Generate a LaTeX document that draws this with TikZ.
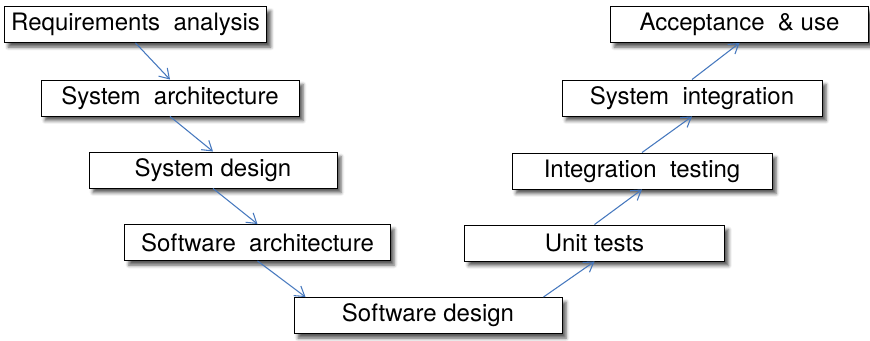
\documentclass[tikz,border=0pt]{standalone}
\usepackage{fontspec}
\setmainfont{TeX Gyre Heros}
\usepackage{tikz}
\newcommand{\boxwidth}{195pt}
\newcommand{\boxheight}{27pt}
\usetikzlibrary{arrows.meta,calc,positioning,shadows.blur}
\definecolor{arrowblue}{RGB}{70,120,190}
\tikzset{
  x=0.75pt,y=-0.75pt,
  font=\fontsize{18}{21}\selectfont,
  stage/.style={draw,fill=white,line width=0.7pt,shape=rectangle,minimum width=\boxwidth,minimum height=\boxheight,inner sep=1mm,
    blur shadow={shadow xshift=3pt,shadow yshift=-3.5pt,shadow blur radius=2.5pt,shadow opacity=65}},
  flow/.style={draw=arrowblue,line width=0.8pt,-{Straight Barb[length=7pt,width=9pt]}}
}
\begin{document}
\begin{tikzpicture}
    \useasboundingbox (0,0) rectangle (870,341);

    % left branch of the V
    \node (req) [stage,minimum width=197pt] at (135.5,24.5) {Requirements\ \ analysis};
    \node (sysarch) [stage,minimum width=193.5pt] at (170,98) {System\ \ architecture};
    \node (sysdes) [stage,minimum width=186pt] at (213,170) {System design};
    \node (swarch) [stage,minimum width=199pt] at (257.5,242.5) {Software\ \ architecture};
    \node (swdes) [stage,minimum width=201pt] at (428,315.5) {Software design};

    % right branch of the V
    \node (unit) [stage] at (594.5,243) {Unit tests};
    \node (inttest) [stage] at (642,171) {Integration\ \ testing};
    \node (sysint) [stage] at (692,98) {System\ \ integration};
    \node (accept) [stage,minimum width=194pt] at (739.5,24.5) {Acceptance\ \ \& use};

    \path [flow] (req.south) -- (sysarch.north);
    \path [flow] (sysarch.south) -- (sysdes.north);
    \path [flow] (sysdes.south) -- (swarch.north);
    \path [flow] (swarch.south) -- ($(swdes.north west)+(12,0)$);
    \path [flow] ($(swdes.north east)+(-19,0)$) -- (unit.south);
    \path [flow] (unit.north) -- (inttest.south);
    \path [flow] (inttest.north) -- (sysint.south);
    \path [flow] (sysint.north) -- (accept.south);
  \end{tikzpicture}
\end{document}
